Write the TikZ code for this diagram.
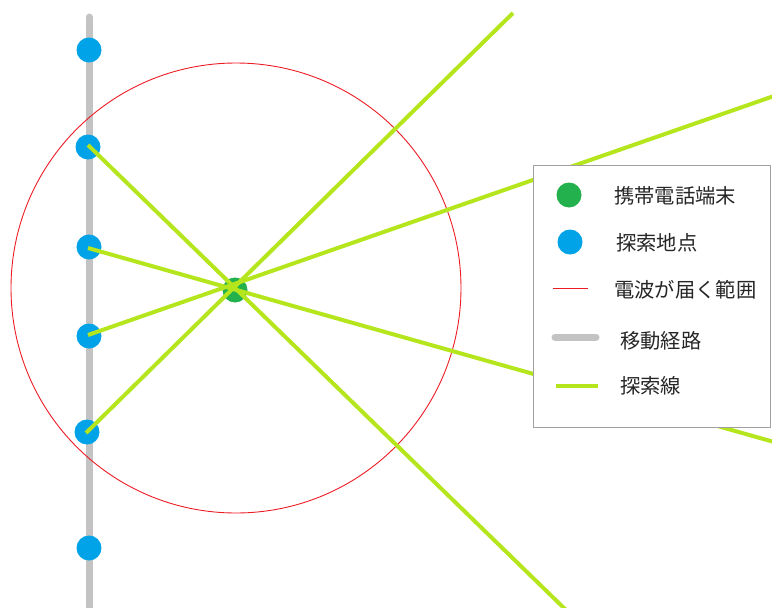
\documentclass[tikz,border=0pt]{standalone}
\usepackage{fontspec}
\newfontfamily\cjk{Noto Sans CJK JP}
\definecolor{pathgray}{RGB}{195,195,195}
\definecolor{ptblue}{RGB}{0,162,232}
\definecolor{phgreen}{RGB}{34,177,76}
\definecolor{limeline}{RGB}{181,230,29}
\definecolor{wavered}{RGB}{237,28,36}
\definecolor{boxgray}{RGB}{160,160,160}
\tikzset{
  route/.style={draw=pathgray,line width=7pt,line cap=round},
  ptdot/.style={circle,fill=ptblue,minimum size=25pt,inner sep=0pt},
  phdot/.style={circle,fill=phgreen,minimum size=25pt,inner sep=0pt},
  searchline/.style={draw=limeline,line width=4pt},
  wave/.style={draw=wavered,line width=0.9pt},
  legbox/.style={draw=boxgray,line width=1.2pt,fill=white},
  legtext/.style={anchor=west,inner sep=0pt,font=\cjk\fontsize{20.3pt}{23pt}\selectfont,text=black!85}
}
\begin{document}
\begin{tikzpicture}[x=1pt,y=-1pt]
\useasboundingbox (0,0) rectangle (772,608);
% route
\coordinate (rtop) at (89,17);
\coordinate (rbot) at (89,620);
\draw[route] (rtop) -- (rbot);
% radio range
\node[circle,wave,minimum size=450pt,inner sep=0pt] (range) at (236,288) {};
% search points
\node[ptdot] (p0) at (89,50) {};
\node[ptdot] (p1) at (88,147) {};
\node[ptdot] (p2) at (89,247) {};
\node[ptdot] (p3) at (89,336) {};
\node[ptdot] (p4) at (87,432) {};
\node[ptdot] (p5) at (89,548) {};
% phone
\node[phdot] (phone) at (235,290) {};
% search line ends
\coordinate (e1) at (566,610);
\coordinate (e2) at (774,442);
\coordinate (e3) at (774,96);
\coordinate (e4) at (513,13);
\coordinate (s1) at (88,145);
\coordinate (s2) at (88,248);
\coordinate (s3) at (88,335);
\coordinate (s4) at (86,433);
\draw[searchline] (s1) -- (e1);
\draw[searchline] (s2) -- (e2);
\draw[searchline] (s3) -- (e3);
\draw[searchline] (s4) -- (e4);
% legend
\node[legbox,minimum width=237pt,minimum height=262pt,anchor=north west,inner sep=0pt] (legend) at (533,165) {};
\node[phdot] (lg1) at (569,195) {};
\node[legtext] (lt1) at (614,196) {携帯電話端末};
\node[ptdot] (lg2) at (570,242) {};
\node[legtext] (lt2) at (616,243) {探索地点};
\coordinate (lr1) at (553,288);
\coordinate (lr2) at (588,288);
\draw[wave] (lr1) -- (lr2);
\node[legtext] (lt3) at (614,290) {電波が届く範囲};
\coordinate (lp1) at (555,337);
\coordinate (lp2) at (596,337);
\draw[draw=pathgray,line width=7pt,line cap=round] (lp1) -- (lp2);
\node[legtext] (lt4) at (620,341) {移動経路};
\coordinate (ls1) at (556,386);
\coordinate (ls2) at (598,386);
\draw[searchline] (ls1) -- (ls2);
\node[legtext] (lt5) at (620,386) {探索線};
\end{tikzpicture}
\end{document}
